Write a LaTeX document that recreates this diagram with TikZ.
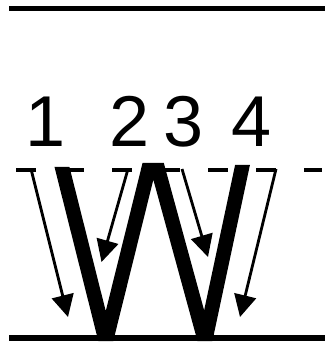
\documentclass[tikz,border=0pt]{standalone}
\usepackage{fontspec}
\setmainfont{Liberation Sans}
\usetikzlibrary{arrows.meta}
\begin{document}
\begin{tikzpicture}[x=1pt,y=-1pt,
  rule/.style={line width=5.5pt},
  guide/.style={line width=3.2pt,dash pattern=on 20pt off 28pt},
  ray/.style={line width=2.8pt,-{Triangle[length=22pt,width=22pt]}},
  wstroke/.style={line width=14.5pt,line join=miter,miter limit=20},
  digit/.style={inner sep=0pt,anchor=base,font=\fontsize{72}{72}\selectfont}]
\useasboundingbox (0,0) rectangle (325,347);
% rules
\coordinate (tl) at (9,8.5);   \coordinate (tr) at (325,8.5);
\coordinate (bl) at (9,338);   \coordinate (br) at (325,338);
\coordinate (dl) at (16,170);  \coordinate (dr) at (322,170);
\draw[rule] (tl) -- (tr);
% labels
\node[digit] (n1) at (46,147) {1};
\node[digit] (n2) at (130,147) {2};
\node[digit] (n3) at (184,147) {3};
\node[digit] (n4) at (252,147) {4};
% dashed line
\draw[guide] (dl) -- (dr);
% W
\coordinate (wa) at (57.7,150);
\coordinate (wb) at (105.8,341);
\coordinate (wc) at (153,151);
\coordinate (wd) at (205,341);
\coordinate (we) at (245.7,150);
\begin{scope}
  \clip (0,167) -- (130,167) -- (130,163) -- (180,163) -- (180,165) -- (325,165) -- (325,341) -- (0,341) -- cycle;
  \draw[wstroke] (wa) -- (wb) -- (wc) -- (wd) -- (we);
\end{scope}
% bottom rule
\draw[rule,line width=6pt] (bl) -- (br);
% arrows
\coordinate (r1s) at (31,169);  \coordinate (r1e) at (68,317);
\coordinate (r2s) at (128,169); \coordinate (r2e) at (101.5,262);
\coordinate (r3s) at (182,169); \coordinate (r3e) at (208,257);
\coordinate (r4s) at (276,169); \coordinate (r4e) at (240,317);
\draw[ray] (r1s) -- (r1e);
\draw[ray] (r2s) -- (r2e);
\draw[ray] (r3s) -- (r3e);
\draw[ray] (r4s) -- (r4e);
\end{tikzpicture}
\end{document}
